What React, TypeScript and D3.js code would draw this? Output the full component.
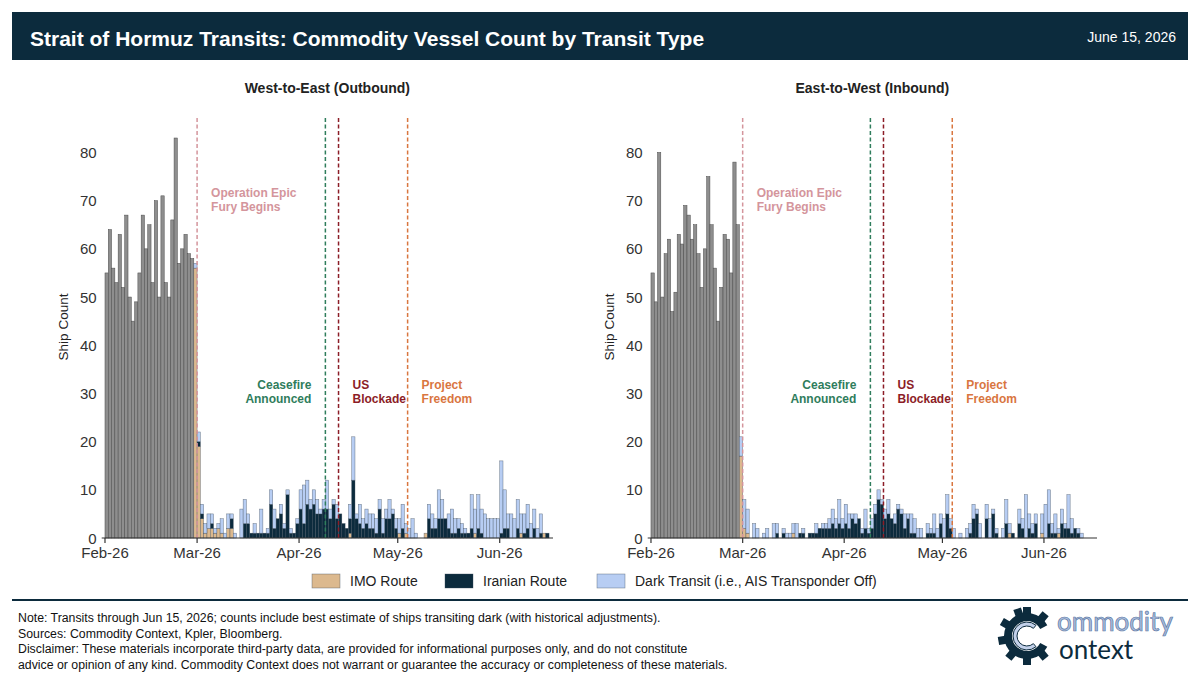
import React, { useEffect } from "react";
import * as d3 from "d3";

// ---- data ----
// Feb 1 - Feb 27: total transits before the split by route
const grayOut = [55, 64, 56, 53, 63, 52, 67, 50, 45, 49, 55, 67, 60, 65, 53, 70, 50, 71, 53, 50, 66, 83, 57, 60, 63, 59, 58];
const grayIn = [55, 49, 80, 50, 59, 62, 47, 51, 63, 61, 69, 67, 62, 65, 59, 52, 60, 75, 65, 56, 45, 52, 63, 62, 55, 78, 65];

// Feb 28 - Jun 15, outbound
const imoOut = [
  56, 19, 4, 1, 2, 2, 1, 2, 1, 0,
  2, 2, 0, 0, 0, 0, 0, 0, 0, 0,
  0, 0, 0, 0, 0, 0, 0, 0, 0, 0,
  0, 0, 0, 0, 0, 0, 0, 0, 0, 0,
  0, 0, 0, 0, 0, 0, 0, 1, 0, 0,
  0, 0, 0, 0, 0, 0, 0, 0, 0, 0,
  0, 0, 1, 0, 1, 0, 0, 0, 0, 0,
  1, 0, 0, 0, 0, 0, 0, 0, 0, 0,
  0, 0, 0, 0, 0, 1, 0, 0, 0, 0,
  0, 0, 0, 0, 0, 0, 0, 0, 0, 1,
  0, 0, 0, 0, 0, 0, 1, 0,
];
const iranOut = [
  0, 1, 1, 0, 0, 1, 0, 0, 0, 0,
  0, 2, 0, 0, 0, 3, 3, 1, 1, 1,
  1, 1, 1, 7, 2, 4, 5, 2, 9, 1,
  1, 3, 6, 3, 7, 6, 7, 5, 5, 6,
  6, 4, 7, 4, 5, 3, 2, 3, 12, 4,
  3, 2, 3, 2, 2, 1, 6, 1, 4, 4,
  5, 2, 0, 2, 0, 0, 0, 0, 0, 0,
  0, 4, 2, 2, 4, 4, 4, 2, 1, 1,
  2, 1, 1, 1, 2, 0, 2, 1, 0, 0,
  0, 0, 0, 1, 2, 2, 0, 0, 2, 0,
  1, 2, 0, 2, 0, 1, 0, 1,
];
const darkOut = [
  1, 2, 2, 2, 3, 2, 1, 1, 3, 1,
  3, 1, 1, 0, 6, 5, 2, 0, 2, 0,
  5, 0, 1, 3, 4, 0, 2, 1, 1, 1,
  0, 1, 4, 8, 5, 2, 3, 3, 1, 2,
  6, 2, 1, 3, 0, 0, 0, 3, 9, 1,
  4, 2, 3, 3, 3, 3, 2, 3, 2, 4,
  1, 2, 3, 5, 2, 2, 4, 1, 0, 0,
  0, 3, 3, 2, 6, 4, 0, 3, 5, 3,
  2, 2, 1, 0, 7, 5, 7, 5, 5, 4,
  4, 4, 4, 15, 8, 3, 5, 4, 6, 4,
  4, 5, 3, 4, 2, 4, 0, 0,
];

// Feb 28 - Jun 15, inbound
const imoIn = [
  17, 2, 1, 0, 0, 0, 0, 0, 0, 0,
  0, 0, 0, 0, 0, 0, 1, 0, 0, 0,
  0, 0, 0, 0, 0, 0, 0, 0, 0, 0,
  0, 0, 0, 0, 0, 0, 0, 0, 0, 0,
  0, 0, 0, 0, 0, 0, 0, 0, 0, 0,
  0, 0, 0, 0, 0, 0, 0, 0, 0, 0,
  0, 0, 0, 0, 0, 0, 0, 0, 0, 0,
  0, 0, 0, 0, 0, 0, 0, 0, 0, 0,
  0, 0, 1, 0, 0, 0, 0, 0, 0, 0,
  0, 0, 1, 0, 0, 0, 0, 1, 0, 0,
  0, 0, 0, 0, 0, 0, 0, 0,
];
const iranIn = [
  0, 0, 0, 0, 0, 0, 0, 0, 0, 0,
  0, 1, 0, 1, 0, 0, 0, 0, 1, 1,
  0, 1, 1, 1, 2, 2, 2, 2, 3, 2,
  3, 2, 3, 2, 4, 3, 4, 1, 2, 1,
  2, 5, 8, 7, 4, 5, 4, 3, 6, 5,
  2, 4, 1, 1, 0, 0, 0, 1, 1, 1,
  0, 3, 0, 5, 2, 0, 0, 0, 0, 0,
  1, 4, 5, 0, 0, 4, 0, 5, 1, 0,
  0, 3, 0, 1, 0, 3, 2, 0, 2, 1,
  3, 0, 0, 0, 3, 1, 1, 0, 3, 2,
  2, 1, 2, 1, 0, 0, 0, 0,
];
const darkIn = [
  4, 6, 5, 0, 3, 2, 0, 1, 2, 0,
  3, 2, 0, 1, 1, 1, 2, 3, 0, 1,
  0, 0, 0, 2, 0, 1, 1, 2, 3, 2,
  5, 2, 4, 3, 1, 2, 0, 1, 4, 1,
  2, 2, 2, 1, 2, 3, 0, 2, 1, 1,
  3, 1, 4, 3, 2, 2, 0, 2, 1, 4,
  2, 2, 4, 4, 2, 2, 0, 1, 0, 2,
  2, 3, 1, 3, 0, 3, 4, 1, 1, 0,
  2, 5, 2, 0, 0, 3, 2, 9, 3, 2,
  2, 0, 4, 7, 7, 2, 4, 1, 3, 1,
  7, 3, 0, 1, 1, 0, 0, 0,
];

const yTicks = [0, 10, 20, 30, 40, 50, 60, 70, 80];
const monthTicks = ["2026-02-01", "2026-03-01", "2026-04-01", "2026-05-01", "2026-06-01"];
const eventDates = ["2026-03-01", "2026-04-09", "2026-04-13", "2026-05-04"];
const eventLabels = [
  ["Operation Epic", "Fury Begins"],
  ["Ceasefire", "Announced"],
  ["US", "Blockade"],
  ["Project", "Freedom"],
];
const legendLabels = ["IMO Route", "Iranian Route", "Dark Transit (i.e., AIS Transponder Off)"];
const footerLines = [
  "Note: Transits through Jun 15, 2026; counts include best estimate of ships transiting dark (with historical adjustments).",
  "Sources: Commodity Context, Kpler, Bloomberg.",
  "Disclaimer: These materials incorporate third-party data, are provided for informational purposes only, and do not constitute",
  "advice or opinion of any kind. Commodity Context does not warrant or guarantee the accuracy or completeness of these materials.",
];

// ---- styles ----
const NAVY = "#0c2b3d";
const FONT = "'Liberation Sans', Arial, Helvetica, sans-serif";
const seriesColors: Record<string, string> = { imo: "#dcb98e", iran: NAVY, dark: "#b7cdf3" };
const grayColor = "#8e8e8e";
const eventColors = ["#d4959c", "#2f7d5c", "#8c1d27", "#d9763f"];
const eventTextY = [197, 389, 389, 389];
const eventAnchor = ["start", "end", "start", "start"];

const DAY = 86400000;
const parse = d3.timeParse("%Y-%m-%d");
const start = parse("2026-02-01") as Date;
const dayAt = (k: number) => new Date(start.getTime() + k * DAY);
const fmt = d3.timeFormat("%b-%y");

const PLOT_TOP = 118;
const PLOT_BOTTOM = 538;

type PanelProps = {
  x0: number;
  x1: number;
  title: string;
  gray: number[];
  imo: number[];
  iran: number[];
  dark: number[];
};

function Panel({ x0, x1, title, gray, imo, iran, dark }: PanelProps) {
  const x = d3.scaleTime().domain([dayAt(-1), dayAt(136.2)]).range([x0, x1]);
  const y = d3.scaleLinear().domain([0, 87.15]).range([PLOT_BOTTOM, PLOT_TOP]);
  const bw = (k: number) => x(dayAt(k + 1)) - x(dayAt(k));

  const rows = imo.map((v, i) => ({ k: gray.length + i, imo: v, iran: iran[i], dark: dark[i] }));
  const stacked = d3.stack<any>().keys(["imo", "iran", "dark"])(rows);

  return (
    <g>
      <text x={(x0 + x1) / 2} y={93} textAnchor="middle" fontSize={14} fontWeight="bold" fill="#222">
        {title}
      </text>
      <text
        transform={`translate(${x0 - 34},${327}) rotate(-90)`}
        textAnchor="middle"
        fontSize={13.5}
        fill="#222"
      >
        Ship Count
      </text>
      {yTicks.map((t) => (
        <text key={t} x={x0 - 5} y={y(t) + 5.5} textAnchor="end" fontSize={15} fill="#333">
          {t}
        </text>
      ))}

      {gray.map((v, k) => (
        <rect
          key={"g" + k}
          x={x(dayAt(k))}
          y={y(v)}
          width={bw(k)}
          height={y(0) - y(v)}
          fill={grayColor}
          stroke="#4a4a4a"
          strokeWidth={0.5}
        />
      ))}
      {stacked.map((s) =>
        s.map((d, i) =>
          d[1] - d[0] > 0 ? (
            <rect
              key={s.key + i}
              x={x(dayAt(d.data.k))}
              y={y(d[1])}
              width={bw(d.data.k)}
              height={y(d[0]) - y(d[1])}
              fill={seriesColors[s.key]}
              stroke="#3c4a5a"
              strokeOpacity={0.7}
              strokeWidth={0.5}
            />
          ) : null
        )
      )}

      {eventDates.map((ds, i) => {
        const ex = x(parse(ds) as Date);
        const tx = eventAnchor[i] === "end" ? ex - 14 : ex + 14;
        return (
          <g key={ds}>
            <line x1={ex} x2={ex} y1={PLOT_TOP} y2={PLOT_BOTTOM} stroke={eventColors[i]} strokeWidth={1.5} strokeDasharray="4,2.5" />
            <text
              x={tx}
              y={eventTextY[i]}
              textAnchor={eventAnchor[i] as any}
              fontSize={12}
              fontWeight="bold"
              fill={eventColors[i]}
              stroke="#fff"
              strokeWidth={2.5}
              paintOrder="stroke"
              strokeLinejoin="round"
            >
              {eventLabels[i].map((l, j) => (
                <tspan key={j} x={tx} dy={j === 0 ? 0 : 13.5}>
                  {l}
                </tspan>
              ))}
            </text>
          </g>
        );
      })}

      <line x1={x0} x2={x1} y1={PLOT_BOTTOM} y2={PLOT_BOTTOM} stroke="#333" strokeWidth={1.2} />
      {monthTicks.map((ds) => {
        const d = parse(ds) as Date;
        const tx = x(d);
        return (
          <g key={ds}>
            <line x1={tx} x2={tx} y1={PLOT_BOTTOM} y2={PLOT_BOTTOM + 5} stroke="#333" strokeWidth={1.2} />
            <text x={tx} y={PLOT_BOTTOM + 20} textAnchor="middle" fontSize={15} fill="#333">
              {fmt(d)}
            </text>
          </g>
        );
      })}
    </g>
  );
}

function Logo() {
  const cx = 1027;
  const cy = 636;
  const ring = d3.arc()({ innerRadius: 15, outerRadius: 23, startAngle: (118 * Math.PI) / 180, endAngle: (422 * Math.PI) / 180 } as any) as string;
  const inner = d3.arc()({ innerRadius: 10, outerRadius: 14, startAngle: (140 * Math.PI) / 180, endAngle: (400 * Math.PI) / 180 } as any) as string;
  const teeth = [0, 40, 140, 180, 220, 260, 300, 340];
  return (
    <g>
      <g transform={`translate(${cx},${cy})`}>
        {teeth.map((a) => (
          <rect key={a} x={-4} y={-29} width={8} height={9} fill={NAVY} transform={`rotate(${a})`} />
        ))}
        <path d={ring} fill={NAVY} />
        <path d={inner} fill="#c3d1ea" stroke={NAVY} strokeWidth={1} />
      </g>
      <text x={1057} y={631} fontFamily="Lato, 'Open Sans', sans-serif" fontSize={26} fill="#aabddd" stroke="#5d78a3" strokeWidth={0.7}>
        ommodity
      </text>
      <text x={1059} y={659} fontFamily="Lato, 'Open Sans', sans-serif" fontSize={26} fill={NAVY}>
        ontext
      </text>
    </g>
  );
}

export default function App() {
  useEffect(() => {
    document.body.style.margin = "0";
  }, []);

  const legendX = [312, 445, 597];
  const legendKeys = ["imo", "iran", "dark"];

  return (
    <svg width={1200} height={685} style={{ display: "block", background: "#fff", fontFamily: FONT }}>
      <rect x={12} y={12} width={1176} height={48} fill={NAVY} />
      <text x={30} y={45.5} fontSize={21} fontWeight="bold" fill="#fff">
        Strait of Hormuz Transits: Commodity Vessel Count by Transit Type
      </text>
      <text x={1176} y={42} textAnchor="end" fontSize={14} fill="#fff">
        June 15, 2026
      </text>

      <Panel x0={101.7} x1={553} title="West-to-East (Outbound)" gray={grayOut} imo={imoOut} iran={iranOut} dark={darkOut} />
      <Panel x0={647.7} x1={1097} title="East-to-West (Inbound)" gray={grayIn} imo={imoIn} iran={iranIn} dark={darkIn} />

      {legendLabels.map((l, i) => (
        <g key={l}>
          <rect x={legendX[i]} y={574} width={28} height={14} fill={seriesColors[legendKeys[i]]} stroke="#3c4a5a" strokeOpacity={0.6} strokeWidth={0.6} />
          <text x={legendX[i] + 38} y={586} fontSize={14} fill="#222">
            {l}
          </text>
        </g>
      ))}

      <line x1={12} x2={1188} y1={600} y2={600} stroke={NAVY} strokeWidth={2} />
      {footerLines.map((l, i) => (
        <text key={i} x={18} y={622 + i * 15.5} fontSize={12.3} fill="#111">
          {l}
        </text>
      ))}
      <Logo />
    </svg>
  );
}
